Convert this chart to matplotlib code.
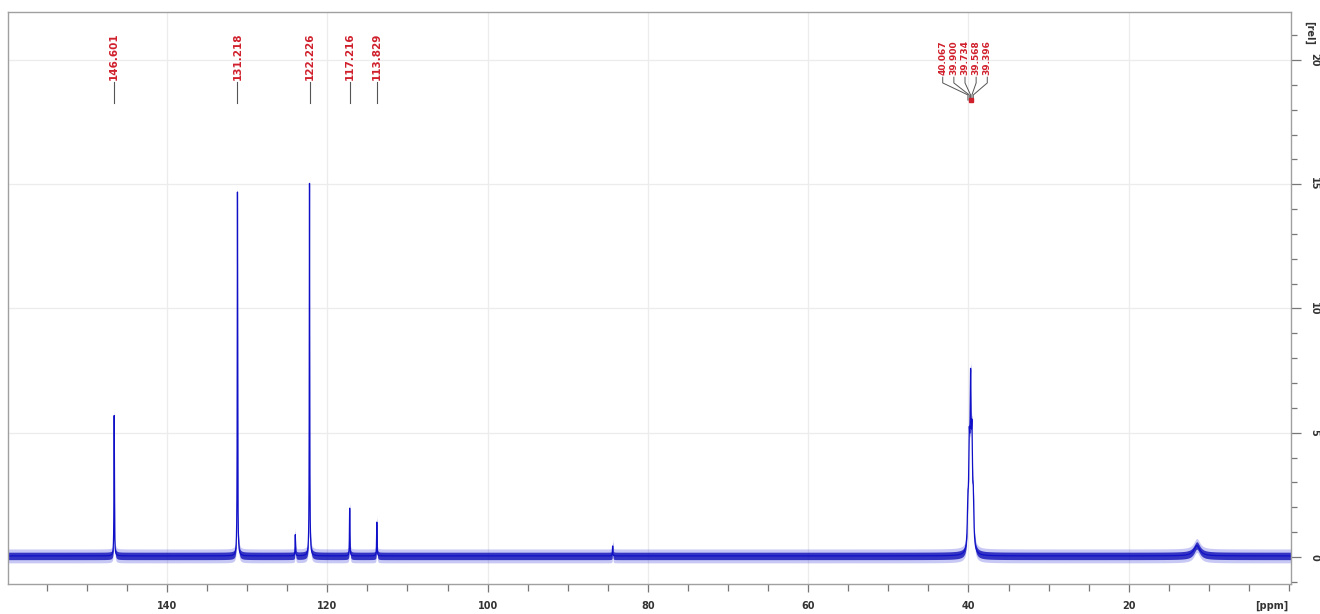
import numpy as np
import matplotlib
matplotlib.use("Agg")
import matplotlib.pyplot as plt
from matplotlib.ticker import MultipleLocator
from matplotlib.transforms import blended_transform_factory

# peaks (ppm, height in [rel], half width in ppm)
peak_ppm = [146.601, 131.218, 124.0, 122.226, 117.216, 113.829, 84.4,
            40.067, 39.900, 39.734, 39.568, 39.396, 11.5]
peak_height = [5.65, 14.65, 0.85, 15.0, 1.92, 1.36, 0.4,
               1.5, 3.5, 6.0, 3.8, 1.7, 0.42]
peak_hwhm = [0.03, 0.03, 0.03, 0.03, 0.03, 0.03, 0.03,
             0.08, 0.08, 0.08, 0.08, 0.08, 0.45]
baseline = 0.04

# labelled peaks
single_labels = ["146.601", "131.218", "122.226", "117.216", "113.829"]
multiplet_labels = ["40.067", "39.900", "39.734", "39.568", "39.396"]

x_ticks = [140, 120, 100, 80, 60, 40, 20]
y_ticks = [0, 5, 10, 15, 20]

# build spectrum from the peak list
ppm = np.linspace(160.0, -0.5, 64000)
spec = np.full_like(ppm, baseline)
for p, h, w in zip(peak_ppm, peak_height, peak_hwhm):
    spec += h * w ** 2 / ((ppm - p) ** 2 + w ** 2)

fig = plt.figure(figsize=(13.2, 6.14), dpi=100)
ax = fig.add_axes([8 / 1320, 1 - 584 / 614, (1291 - 8) / 1320, (584 - 12) / 614])

blue = "#1010c8"
ax.fill_between(ppm, spec - 0.28, spec + 0.28, color="#4a4ae0", alpha=0.3, lw=0)
ax.fill_between(ppm, spec - 0.15, spec + 0.15, color="#1010b8", alpha=0.8, lw=0)
ax.plot(ppm, spec, color=blue, lw=0.9)

ax.set_xlim(159.85, -0.25)
ax.set_ylim(-1.09, 21.93)

# grid
for v in x_ticks:
    ax.axvline(v, color="#ececec", lw=0.9, zorder=0)
for v in y_ticks[1:]:
    ax.axhline(v, color="#ececec", lw=0.9, zorder=0)

# axes styling
for sp in ax.spines.values():
    sp.set_color("#a0a0a0")
    sp.set_linewidth(1.0)

ax.xaxis.set_major_locator(MultipleLocator(20))
ax.xaxis.set_minor_locator(MultipleLocator(5))
ax.yaxis.set_major_locator(MultipleLocator(5))
ax.yaxis.set_minor_locator(MultipleLocator(1))
ax.set_xticks(x_ticks)
ax.set_xticklabels([str(v) for v in x_ticks])
ax.set_yticks(y_ticks)
ax.set_yticklabels([str(v) for v in y_ticks], rotation=-90, va="center")
ax.yaxis.tick_right()
ax.tick_params(axis="x", which="major", length=6, width=0.9, color="#777777",
               labelsize=7, labelcolor="#333333", pad=6)
ax.tick_params(axis="x", which="minor", length=5, width=0.9, color="#777777")
ax.tick_params(axis="y", which="major", length=7, width=0.9, color="#777777",
               labelsize=7, labelcolor="#333333", pad=6)
ax.tick_params(axis="y", which="minor", length=4, width=0.9, color="#777777")
for lab in ax.get_xticklabels() + ax.get_yticklabels():
    lab.set_fontweight("bold")

ax.text(0.998, -0.038, "[ppm]", transform=ax.transAxes, ha="right", va="center",
        fontsize=7, fontweight="bold", color="#333333")
ax.text(1.0145, 0.985, "[rel]", transform=ax.transAxes, ha="center", va="top",
        rotation=-90, fontsize=7, fontweight="bold", color="#333333")

# peak labels
red = "#d0202c"
trans = blended_transform_factory(ax.transData, ax.transAxes)
for lab in single_labels:
    p = float(lab)
    ax.text(p, 0.881, lab, transform=trans, rotation=90, ha="center", va="bottom",
            fontsize=7.5, fontweight="bold", color=red)
    ax.plot([p, p], [0.878, 0.841], transform=trans, color="#555555", lw=0.8)

centre = 40.43
step = 1.39
for i, lab in enumerate(multiplet_labels):
    p = float(lab)
    lx = centre + (2 - i) * step
    ax.text(lx, 0.889, lab, transform=trans, rotation=90, ha="center", va="bottom",
            fontsize=6.5, fontweight="bold", color=red)
    ax.plot([lx, lx, p, p], [0.886, 0.876, 0.855, 0.846], transform=trans,
            color="#555555", lw=0.7)
ax.plot([float(multiplet_labels[2])], [0.846], transform=trans, marker="s",
        ms=2.5, color=red)

fig.savefig("out.png", dpi=100)
